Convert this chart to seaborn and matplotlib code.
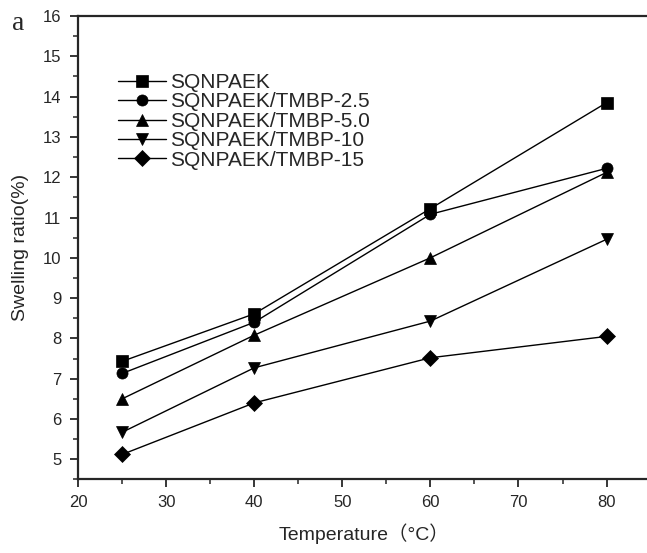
import numpy as np
import pandas as pd
import seaborn as sns

import matplotlib
matplotlib.use("Agg")  # headless mode (no GUI)

import matplotlib.pyplot as plt
from matplotlib.ticker import MultipleLocator

# data
temperature = [25, 40, 60, 80]
samples = ["SQNPAEK", "SQNPAEK/TMBP-2.5", "SQNPAEK/TMBP-5.0",
           "SQNPAEK/TMBP-10", "SQNPAEK/TMBP-15"]
sqnpaek = [7.43, 8.61, 11.22, 13.85]
tmbp_2_5 = [7.13, 8.40, 11.08, 12.22]
tmbp_5_0 = [6.50, 8.08, 10.00, 12.12]
tmbp_10 = [5.67, 7.27, 8.43, 10.46]
tmbp_15 = [5.12, 6.40, 7.52, 8.05]
marker_list = ["s", "o", "^", "v", "D"]

series = [sqnpaek, tmbp_2_5, tmbp_5_0, tmbp_10, tmbp_15]
df = pd.DataFrame({
    "temperature": temperature * len(samples),
    "swelling": [v for s in series for v in s],
    "sample": [name for name in samples for _ in temperature],
})

sns.set_style("ticks")
plt.rcParams["font.family"] = ["Liberation Sans", "Noto Sans CJK SC"]

fig = plt.figure(figsize=(6.47, 5.53), dpi=100)
ax = fig.add_axes([0.1206, 0.1330, 0.885, 0.838])

sns.lineplot(
    data=df, x="temperature", y="swelling",
    hue="sample", style="sample", hue_order=samples, style_order=samples,
    palette=["black"] * 5, markers=marker_list, dashes=False,
    markersize=8, markeredgecolor="black", markeredgewidth=0.5,
    linewidth=1.0, legend=False, ax=ax,
)

ax.set_xlim(20, 85)
ax.set_ylim(4.5, 16)
ax.xaxis.set_major_locator(MultipleLocator(10))
ax.xaxis.set_minor_locator(MultipleLocator(5))
ax.yaxis.set_major_locator(MultipleLocator(1))
ax.yaxis.set_minor_locator(MultipleLocator(0.5))
ax.set_yticks(np.arange(5, 17, 1))

for side in ["left", "bottom", "top"]:
    ax.spines[side].set_linewidth(1.6)
ax.spines["right"].set_visible(False)
ax.tick_params(which="major", direction="out", length=6, width=1.3,
               labelsize=12)
ax.tick_params(axis="x", which="major", pad=5)
ax.tick_params(axis="y", which="major", pad=6)
ax.tick_params(which="minor", direction="out", length=3.5, width=1.1)

ax.set_xlabel("Temperature（°C）", fontsize=14, labelpad=10)
ax.set_ylabel("Swelling ratio(%)", fontsize=14, labelpad=10)

ax.legend(ax.lines[:5], samples, loc="upper left", frameon=False,
          fontsize=15, handlelength=2.3, handletextpad=0.2,
          labelspacing=0.02, borderaxespad=0,
          bbox_to_anchor=(0.056, 0.895))

fig.text(12 / 647, 1 - 30 / 553, "a", fontsize=20,
         family="Liberation Serif")

fig.savefig("out.png", dpi=100)
